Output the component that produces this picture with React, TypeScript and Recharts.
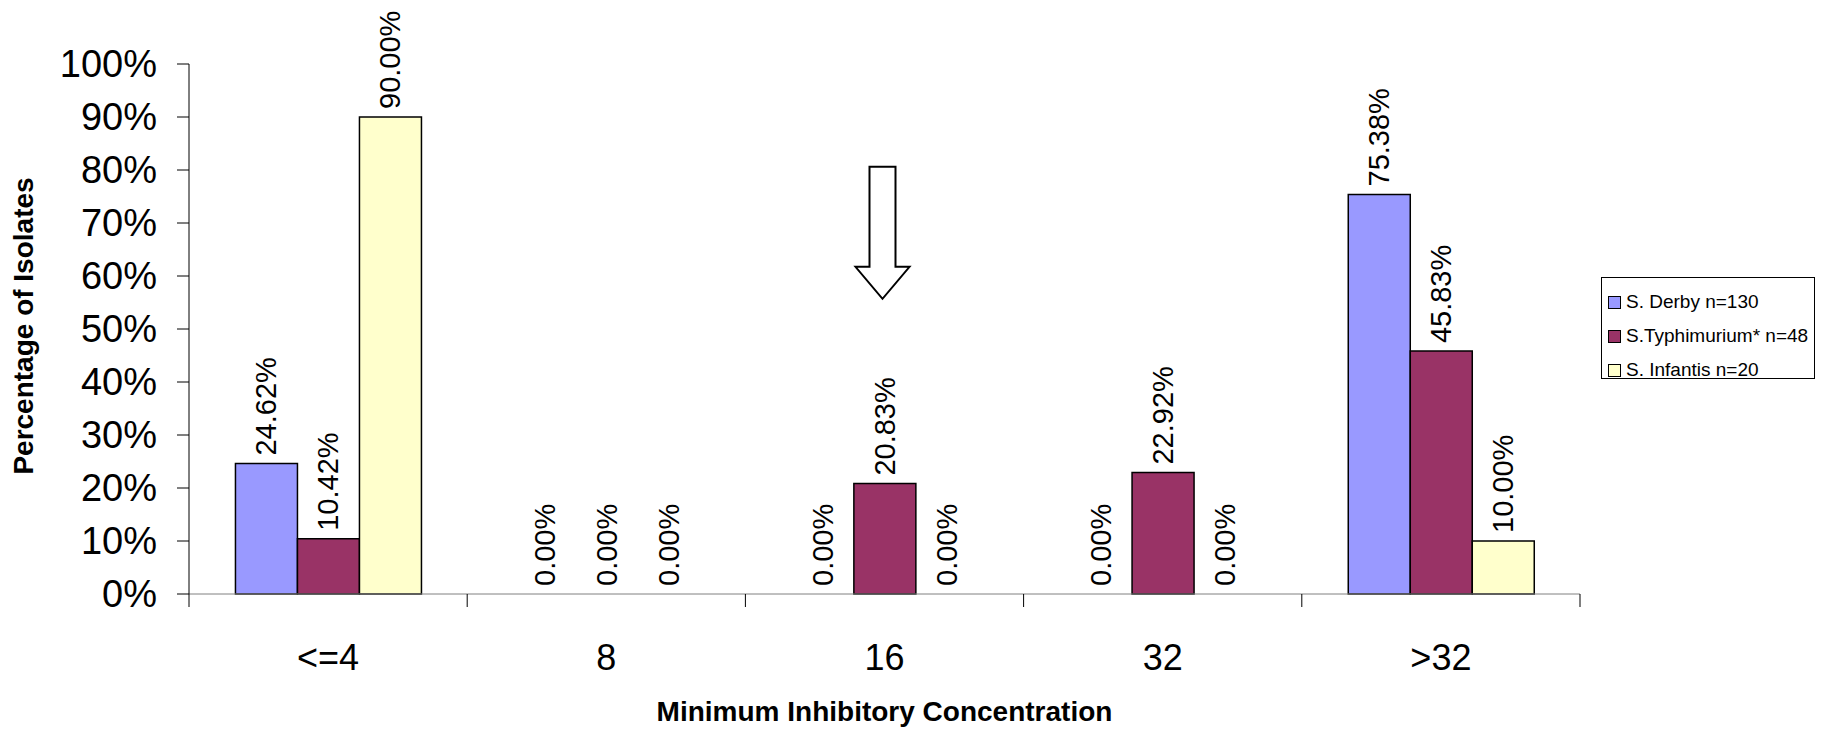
import React from 'react';
import { BarChart, Bar, XAxis, YAxis, LabelList, ReferenceDot, Label, Cell } from 'recharts';

const categories = ['<=4', '8', '16', '32', '>32'];
const derby = [24.62, 0, 0, 0, 75.38];
const typhimurium = [10.42, 0, 20.83, 22.92, 45.83];
const infantis = [90.0, 0, 0, 0, 10.0];
const yTicks = [0, 10, 20, 30, 40, 50, 60, 70, 80, 90, 100];

const seriesKeys = ['derby', 'typhimurium', 'infantis'];
const seriesNames = ['S. Derby n=130', 'S.Typhimurium* n=48', 'S. Infantis n=20'];
const seriesColors = ['#9999FF', '#993366', '#FFFFCC'];
const seriesValues = [derby, typhimurium, infantis];

// arrow annotation over the "16" group, top of arrow in axis units
const arrowCategory = '16';
const arrowTopValue = 80.6;

const data = categories.map((c, i) => ({
    mic: c,
    derby: derby[i],
    typhimurium: typhimurium[i],
    infantis: infantis[i],
}));

const W = 1821;
const H = 731;
const M = { top: 64, right: 241, bottom: 0, left: 0 };
const Y_AXIS_W = 189;
const X_AXIS_H = 137;
const PLOT_W = W - M.right - Y_AXIS_W;
const PLOT_BOTTOM = H - X_AXIS_H;
const BAND = PLOT_W / categories.length;
const FONT = '"Liberation Sans", Arial, sans-serif';

const XTick = ({ x, payload, index }: any) => (
    <g>
        <text x={x} y={PLOT_BOTTOM + 76} textAnchor="middle" fontSize={36} fontFamily={FONT} fill="#000">
            {payload.value}
        </text>
        <line x1={x - BAND / 2} y1={PLOT_BOTTOM} x2={x - BAND / 2} y2={PLOT_BOTTOM + 13} stroke="#000" />
        {index === categories.length - 1 && (
            <line x1={x + BAND / 2} y1={PLOT_BOTTOM} x2={x + BAND / 2} y2={PLOT_BOTTOM + 13} stroke="#000" />
        )}
    </g>
);

const ValueLabel = ({ x, y, width, value }: any) => (
    <text
        transform={`translate(${x + width / 2}, ${y - 8}) rotate(-90)`}
        textAnchor="start"
        dominantBaseline="central"
        fontSize={29}
        fontFamily={FONT}
        fill="#000"
    >
        {Number(value).toFixed(2)}%
    </text>
);

const Arrow = ({ cx, cy }: any) => {
    const c = cx - 2;
    const pts = [
        [c - 13, cy],
        [c + 13, cy],
        [c + 13, cy + 100],
        [c + 27, cy + 100],
        [c, cy + 132],
        [c - 27, cy + 100],
        [c - 13, cy + 100],
    ];
    return <polygon points={pts.map((p) => p.join(',')).join(' ')} fill="#fff" stroke="#000" strokeWidth={2} />;
};

const LegendBox = () => (
    <div
        style={{
            position: 'absolute',
            left: 1601,
            top: 277,
            width: 214,
            height: 102,
            border: '1px solid #000',
            background: '#fff',
            fontFamily: FONT,
            fontSize: 19,
            padding: '7px 0 0 6px',
            boxSizing: 'border-box',
        }}
    >
        {seriesNames.map((n, i) => (
            <div key={n} style={{ display: 'flex', alignItems: 'center', height: 34 }}>
                <span
                    style={{
                        width: 11,
                        height: 11,
                        background: seriesColors[i],
                        border: '1px solid #000',
                        marginRight: 5,
                        display: 'inline-block',
                    }}
                />
                <span style={{ whiteSpace: 'nowrap' }}>{n}</span>
            </div>
        ))}
    </div>
);

export default function App() {
    return (
        <div style={{ position: 'absolute', left: 0, top: 0, width: W, height: H, background: '#fff' }}>
            <BarChart width={W} height={H} data={data} margin={M} barCategoryGap="16.7%" barGap={0}>
                <XAxis
                    dataKey="mic"
                    height={X_AXIS_H}
                    axisLine={{ stroke: '#808080' }}
                    tickLine={false}
                    tick={XTick}
                    interval={0}
                >
                    <Label
                        content={({ viewBox }: any) => (
                            <text
                                x={viewBox.x + viewBox.width / 2}
                                y={viewBox.y + 127}
                                textAnchor="middle"
                                fontSize={28}
                                fontWeight="bold"
                                fontFamily={FONT}
                                fill="#000"
                            >
                                Minimum Inhibitory Concentration
                            </text>
                        )}
                    />
                </XAxis>
                <YAxis
                    width={Y_AXIS_W}
                    domain={[0, 100]}
                    ticks={yTicks}
                    interval={0}
                    tickFormatter={(v) => `${v}%`}
                    tickSize={12}
                    tickMargin={20}
                    axisLine={{ stroke: '#000' }}
                    tickLine={{ stroke: '#000' }}
                    tick={{ fontSize: 38, fill: '#000', fontFamily: FONT }}
                >
                    <Label
                        content={({ viewBox }: any) => (
                            <text
                                transform={`translate(23, ${viewBox.y + viewBox.height / 2 - 3}) rotate(-90)`}
                                textAnchor="middle"
                                dominantBaseline="central"
                                fontSize={28}
                                fontWeight="bold"
                                fontFamily={FONT}
                                fill="#000"
                            >
                                Percentage of Isolates
                            </text>
                        )}
                    />
                </YAxis>
                {seriesKeys.map((k, s) => (
                    <Bar
                        key={k}
                        dataKey={k}
                        name={seriesNames[s]}
                        fill={seriesColors[s]}
                        stroke="#000"
                        strokeWidth={1.5}
                        minPointSize={0.01}
                        isAnimationActive={false}
                    >
                        {seriesValues[s].map((v, i) => (
                            <Cell key={i} stroke={v === 0 ? 'none' : '#000'} />
                        ))}
                        <LabelList dataKey={k} content={ValueLabel} />
                    </Bar>
                ))}
                <ReferenceDot x={arrowCategory} y={arrowTopValue} shape={Arrow} ifOverflow="visible" />
            </BarChart>
            <LegendBox />
        </div>
    );
}
